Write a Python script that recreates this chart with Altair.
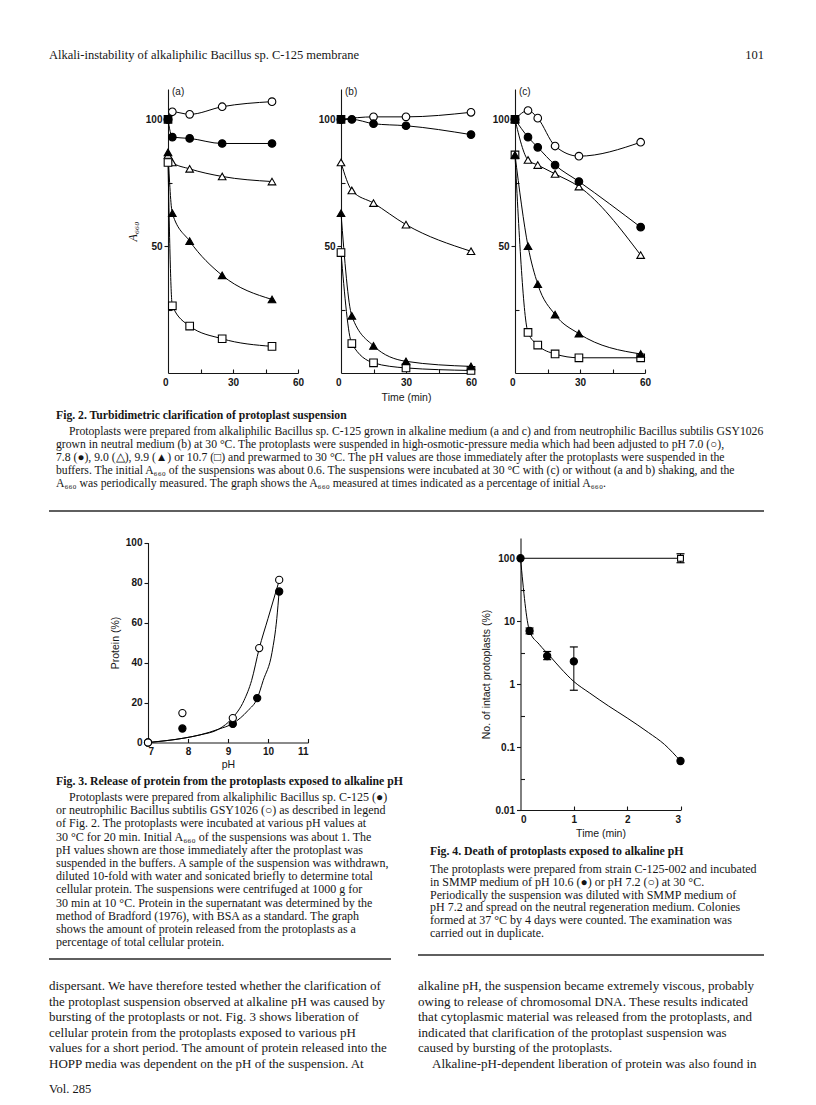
import altair as alt
import pandas as pd

# ---------------- page geometry (page pixels; chart origin is at the 8px body margin) -------------
OX, OY = 8, 8
W, H = 800, 1088


def X(p):
    return p - OX


def Y(p):
    return p - OY


SERIF = "Liberation Serif"
SANS = "Liberation Sans"
INK = "#161616"

# ---------------- Fig. 2 data ----------------
a_time = [0, 2, 10, 25, 48]
a_open_circle = [100, 103, 102, 105, 107]
a_filled_circle = [100, 93, 92.5, 90.5, 90.5]
a_open_triangle = [86, 83, 80.5, 77.5, 75.5]
a_filled_triangle = [87, 63, 52, 38.5, 29]
a_open_square = [83, 26.5, 18.5, 13.5, 10.5]

b_time = [0, 5, 15, 30, 60]
b_open_circle = [100, None, 101, 101, 102.8]
b_filled_circle = [100, 100, 98.3, 97.5, 94]
b_open_triangle = [83, 72, 67, 58.5, 48]
b_filled_triangle = [63, 22.5, 10.7, 4.6, 2.6]
b_open_square = [47.5, 11.6, 4, 2, 1]

c_time = [0, 6, 10.5, 18.5, 29.5, 58]
c_open_circle = [100, 103.5, 100.5, 89.5, 85.5, 91]
c_filled_circle = [100, 93, 89, 82, 75.5, 57.5]
c_open_triangle = [100, 84, 82, 78.5, 73.5, 46.5]
c_filled_triangle = [86, 50, 35, 23, 15.5, 7.5]
c_open_square = [86, 16, 11, 7.5, 6, 6]

start_marker = [100]  # filled square drawn at t = 0 in every panel

# ---------------- Fig. 3 data ----------------
ph_alkaliphile = [7.0, 7.86, 9.12, 9.73, 10.28]
protein_alkaliphile = [0, 7, 9.3, 22.2, 75.5]
ph_subtilis = [7.0, 7.86, 9.12, 9.78, 10.28]
protein_subtilis = [0, 14.7, 12.2, 47.2, 81.3]
curve_subtilis_ph = [7.0, 7.9, 8.3, 8.77, 9.1, 9.4, 9.59, 9.78, 10.0, 10.28]
curve_subtilis_p = [0, 2.2, 3.8, 6.7, 12, 21, 31, 47, 62, 81]
curve_alk_ph = [7.0, 7.9, 8.3, 8.77, 9.12, 9.5, 9.73, 9.88, 10.1, 10.22, 10.28]
curve_alk_p = [0, 2.2, 3.8, 6.7, 9.5, 16, 22, 31, 45, 62, 76]

# ---------------- Fig. 4 data ----------------
f4_time_ph106 = [0, 0.17, 0.5, 1.0, 3.0]
f4_intact_ph106 = [100, 7.0, 2.8, 2.3, 0.06]
f4_time_ph72 = [3.0]
f4_intact_ph72 = [100]
f4_line_ph72_t = [0, 3]
f4_line_ph72_v = [100, 100]
f4_curve_t = [0, 0.17, 0.35, 0.55, 0.75, 1.0, 1.3, 1.65, 2.0, 2.4, 2.7, 3.0]
f4_curve_v = [100, 7.0, 4.3, 2.8, 1.8, 1.1, 0.72, 0.45, 0.29, 0.17, 0.11, 0.06]
f4_err_t = [0.17, 0.5, 1.0, 3.0]
f4_err_lo = [6.3, 2.45, 0.8, 85]
f4_err_hi = [7.8, 3.3, 3.9, 118]

# ---------------- text ----------------
header_left = ["Alkali-instability of alkaliphilic Bacillus sp. C-125 membrane"]
header_right = ["101"]
fig2_title = ["Fig. 2. Turbidimetric clarification of protoplast suspension"]
fig2_caption = [
    "Protoplasts were prepared from alkaliphilic Bacillus sp. C-125 grown in alkaline medium (a and c) and from neutrophilic Bacillus subtilis GSY1026",
    "grown in neutral medium (b) at 30 °C. The protoplasts were suspended in high-osmotic-pressure media which had been adjusted to pH 7.0 (○),",
    "7.8 (●), 9.0 (△), 9.9 (▲) or 10.7 (□) and prewarmed to 30 °C. The pH values are those immediately after the protoplasts were suspended in the",
    "buffers. The initial A₆₆₀ of the suspensions was about 0.6. The suspensions were incubated at 30 °C with (c) or without (a and b) shaking, and the",
    "A₆₆₀ was periodically measured. The graph shows the A₆₆₀ measured at times indicated as a percentage of initial A₆₆₀.",
]
fig3_title = ["Fig. 3. Release of protein from the protoplasts exposed to alkaline pH"]
fig3_caption = [
    "Protoplasts were prepared from alkaliphilic Bacillus sp. C-125 (●)",
    "or neutrophilic Bacillus subtilis GSY1026 (○) as described in legend",
    "of Fig. 2. The protoplasts were incubated at various pH values at",
    "30 °C for 20 min. Initial A₆₆₀ of the suspensions was about 1. The",
    "pH values shown are those immediately after the protoplast was",
    "suspended in the buffers. A sample of the suspension was withdrawn,",
    "diluted 10-fold with water and sonicated briefly to determine total",
    "cellular protein. The suspensions were centrifuged at 1000 g for",
    "30 min at 10 °C. Protein in the supernatant was determined by the",
    "method of Bradford (1976), with BSA as a standard. The graph",
    "shows the amount of protein released from the protoplasts as a",
    "percentage of total cellular protein.",
]
fig4_title = ["Fig. 4. Death of protoplasts exposed to alkaline pH"]
fig4_caption = [
    "The protoplasts were prepared from strain C-125-002 and incubated",
    "in SMMP medium of pH 10.6 (●) or pH 7.2 (○) at 30 °C.",
    "Periodically the suspension was diluted with SMMP medium of",
    "pH 7.2 and spread on the neutral regeneration medium. Colonies",
    "formed at 37 °C by 4 days were counted. The examination was",
    "carried out in duplicate.",
]
body_left = [
    "dispersant. We have therefore tested whether the clarification of",
    "the protoplast suspension observed at alkaline pH was caused by",
    "bursting of the protoplasts or not. Fig. 3 shows liberation of",
    "cellular protein from the protoplasts exposed to various pH",
    "values for a short period. The amount of protein released into the",
    "HOPP media was dependent on the pH of the suspension. At",
]
body_right = [
    "alkaline pH, the suspension became extremely viscous, probably",
    "owing to release of chromosomal DNA. These results indicated",
    "that cytoplasmic material was released from the protoplasts, and",
    "indicated that clarification of the protoplast suspension was",
    "caused by bursting of the protoplasts.",
]
body_right_last = ["Alkaline-pH-dependent liberation of protein was also found in"]
footer = ["Vol. 285"]

# ---------------- helpers ----------------
SER = ["oc", "fc", "ot", "ft", "os", "fs"]
SHAPES = ["circle", "circle", "triangle-up", "triangle-up", "square", "square"]
FILLS = ["white", "black", "white", "black", "white", "black"]
DRAW = {"oc": 0, "ot": 1, "os": 2, "fc": 3, "ft": 4, "fs": 5}

AX = dict(labelFont=SANS, labelFontSize=10, labelFontWeight="bold", labelColor=INK,
          titleFont=SANS, titleFontSize=10.5, titleFontWeight="normal", titleColor=INK,
          domainColor=INK, tickColor=INK, domainWidth=1.1, tickWidth=1.1, tickSize=4,
          grid=False, labelPadding=2)
ZERO_RIGHT = {"condition": {"test": "datum.value === 0", "value": "right"}, "value": "center"}


def text_block(lines, x0, y0, lead, size, weight="normal", align="left", font=SERIF, style="normal"):
    n = len(lines)
    df = pd.DataFrame({"line": lines, "i": list(range(n))})
    span = max(n - 1, 1)
    return alt.Chart(df).mark_text(
        align=align, baseline="middle", font=font, fontSize=size,
        fontWeight=weight, fontStyle=style, color=INK,
    ).encode(
        x=alt.value(X(x0)),
        y=alt.Y("i:Q", scale=alt.Scale(domain=[0, span], range=[Y(y0), Y(y0 + span * lead)], nice=False), axis=None),
        text="line:N",
    )


def hrule(x1, x2, y, w=1.6):
    return alt.Chart(pd.DataFrame({"k": [0]})).mark_rule(color="#2a2a2a", strokeWidth=w).encode(
        x=alt.value(X(x1)), x2=alt.value(X(x2)), y=alt.value(Y(y))
    )


def inward_ticks(xs, ys, xdom, ydom, xvals, yvals, x_axis_page_y, y_axis_page_x):
    """Invisible layer whose top/right axes sit on the real axes, giving inward-pointing ticks."""
    d = pd.DataFrame({"tx": [xdom], "ty": [ydom]})
    tx_axis = alt.Axis(orient="top", offset=-Y(x_axis_page_y), values=xvals, labels=False, domain=False,
                       title="", ticks=True, tickSize=4, tickColor=INK, tickWidth=1.1, grid=False)
    ty_axis = alt.Axis(orient="right", offset=X(y_axis_page_x) - W, values=yvals, labels=False, domain=False,
                       title="", ticks=True, tickSize=4, tickColor=INK, tickWidth=1.1, grid=False)
    return alt.Chart(d).mark_point(opacity=0, size=1).encode(
        x=alt.X("tx:Q", scale=xs, axis=tx_axis), y=alt.Y("ty:Q", scale=ys, axis=ty_axis)
    )


def rows(panel, times, key, vals):
    return [dict(panel=panel, series=key, t=t, v=v, o=DRAW[key])
            for t, v in zip(times, vals) if v is not None]


recs = []
for p, tt, oc, fc, ot, ft, os_ in [
    ("a", a_time, a_open_circle, a_filled_circle, a_open_triangle, a_filled_triangle, a_open_square),
    ("b", b_time, b_open_circle, b_filled_circle, b_open_triangle, b_filled_triangle, b_open_square),
    ("c", c_time, c_open_circle, c_filled_circle, c_open_triangle, c_filled_triangle, c_open_square),
]:
    recs += rows(p, tt, "oc", oc) + rows(p, tt, "fc", fc) + rows(p, tt, "ot", ot)
    recs += rows(p, tt, "ft", ft) + rows(p, tt, "os", os_) + rows(p, [0], "fs", start_marker)
fig2 = pd.DataFrame(recs).sort_values(["o", "t"]).reset_index(drop=True)

# Fig. 2 geometry
F2_Y0 = 373          # page y of value 0
F2_K = 2.536         # px per unit
F2_W = 130           # px for 60 min


def fig2_panel(key, x0, tag, ytitle, xtitle):
    d = fig2[fig2.panel == key]
    xs = alt.Scale(domain=[0, 60], range=[X(x0), X(x0 + F2_W)], nice=False)
    ys = alt.Scale(domain=[0, 112], range=[Y(F2_Y0), Y(F2_Y0 - 112 * F2_K)], nice=False)
    xax = alt.Axis(orient="bottom", offset=Y(F2_Y0) - H, values=[0, 30, 60], ticks=False,
                   labelAlign=ZERO_RIGHT, title=xtitle, titlePadding=5,
                   **{**AX, "labelPadding": 4})
    yax = alt.Axis(orient="left", offset=-X(x0), values=[50, 100], title=ytitle,
                   titleFontStyle="italic", titlePadding=6,
                   **{**AX, "titleFontSize": 12, "titleFont": SERIF})
    base = alt.Chart(d)
    lines = base.transform_filter(alt.datum.series != "fs").mark_line(
        color="black", strokeWidth=1, interpolate="monotone"
    ).encode(
        x=alt.X("t:Q", scale=xs, axis=xax),
        y=alt.Y("v:Q", scale=ys, axis=yax),
        detail="series:N",
        order="t:Q",
    )
    pts = base.mark_point(strokeWidth=1.1, opacity=1, fillOpacity=1, size=58).encode(
        x=alt.X("t:Q", scale=xs, axis=xax),
        y=alt.Y("v:Q", scale=ys, axis=yax),
        shape=alt.Shape("series:N", scale=alt.Scale(domain=SER, range=SHAPES), legend=None),
        fill=alt.Fill("series:N", scale=alt.Scale(domain=SER, range=FILLS), legend=None),
        stroke=alt.value("black"),
        order="o:Q",
    )
    ticks = inward_ticks(xs, ys, 0, 0, [15, 30, 45, 60], [25, 75], F2_Y0, x0)
    lab = text_block([tag], x0 + 4, 92, 10, 10, font=SANS)
    return alt.layer(lines, pts), ticks, lab


pa, ta, la = fig2_panel("a", 168, "(a)", "A₆₆₀", "")
pb, tb, lb = fig2_panel("b", 341, "(b)", "", "Time (min)")
pc, tc, lc = fig2_panel("c", 515, "(c)", "", "")

# ---------------- Fig. 3 ----------------
f3_pts = pd.DataFrame(
    [dict(ph=a, p=b, s="fc") for a, b in zip(ph_alkaliphile, protein_alkaliphile)]
    + [dict(ph=a, p=b, s="oc") for a, b in zip(ph_subtilis, protein_subtilis)]
)
f3_curves = pd.DataFrame(
    [dict(ph=a, p=b, s="sub") for a, b in zip(curve_subtilis_ph, curve_subtilis_p)]
    + [dict(ph=a, p=b, s="alk") for a, b in zip(curve_alk_ph, curve_alk_p)]
)
F3_X0, F3_Y0 = 148, 742.5
f3x = alt.Scale(domain=[7, 11], range=[X(F3_X0), X(308)], nice=False, zero=False)
f3y = alt.Scale(domain=[0, 100], range=[Y(F3_Y0), Y(542.5)], nice=False)
f3xax = alt.Axis(orient="bottom", offset=Y(F3_Y0) - H, values=[7, 8, 9, 10, 11], title="pH", ticks=False,
                 titlePadding=3, **{**AX, "labelPadding": 4})
f3yax = alt.Axis(orient="left", offset=-X(F3_X0), values=[0, 20, 40, 60, 80, 100], title="Protein (%)",
                 titlePadding=5, **AX)
f3_line = alt.Chart(f3_curves).mark_line(color="black", strokeWidth=1, interpolate="monotone").encode(
    x=alt.X("ph:Q", scale=f3x, axis=f3xax), y=alt.Y("p:Q", scale=f3y, axis=f3yax), detail="s:N", order="ph:Q"
)
f3_point = alt.Chart(f3_pts).mark_point(shape="circle", size=52, strokeWidth=1.1, opacity=1, fillOpacity=1).encode(
    x=alt.X("ph:Q", scale=f3x, axis=f3xax), y=alt.Y("p:Q", scale=f3y, axis=f3yax),
    fill=alt.Fill("s:N", scale=alt.Scale(domain=["oc", "fc"], range=["white", "black"]), legend=None),
    stroke=alt.value("black"),
)
fig3 = alt.layer(f3_line, f3_point)
fig3_ticks = inward_ticks(f3x, f3y, 7, 0, [8, 9, 10, 11], [], F3_Y0, F3_X0)

# ---------------- Fig. 4 ----------------
F4_X0, F4_Y0 = 520.5, 810
f4x = alt.Scale(domain=[0, 3], range=[X(F4_X0), X(680.5)], nice=False)
f4y = alt.Scale(type="log", domain=[0.01, 210], range=[Y(F4_Y0), Y(538)], nice=False)
f4xax = alt.Axis(orient="bottom", offset=Y(F4_Y0) - H, values=[0, 1, 2, 3], title="Time (min)", ticks=False,
                 titlePadding=4, **{**AX, "labelPadding": 4})
f4yax = alt.Axis(orient="left", offset=-X(F4_X0), values=[0.01, 0.1, 1, 10, 100],
                 labelExpr="format(datum.value, '~g')",
                 title="No. of intact protoplasts (%)", titlePadding=4, **AX)
f4_pts = pd.DataFrame(
    [dict(t=a, v=b, s="fc") for a, b in zip(f4_time_ph106, f4_intact_ph106)]
    + [dict(t=a, v=b, s="os") for a, b in zip(f4_time_ph72, f4_intact_ph72)]
)
f4_lines = pd.DataFrame(
    [dict(t=a, v=b, s="open") for a, b in zip(f4_line_ph72_t, f4_line_ph72_v)]
    + [dict(t=a, v=b, s="fill") for a, b in zip(f4_curve_t, f4_curve_v)]
)
f4_err = pd.DataFrame({"t": f4_err_t, "lo": f4_err_lo, "hi": f4_err_hi})

f4_line = alt.Chart(f4_lines).mark_line(color="black", strokeWidth=1, interpolate="monotone").encode(
    x=alt.X("t:Q", scale=f4x, axis=f4xax), y=alt.Y("v:Q", scale=f4y, axis=f4yax), detail="s:N", order="t:Q"
)
f4_bar = alt.Chart(f4_err).mark_rule(color="black", strokeWidth=1).encode(
    x=alt.X("t:Q", scale=f4x, axis=f4xax), y=alt.Y("lo:Q", scale=f4y, axis=f4yax), y2="hi:Q"
)
f4_cap = alt.Chart(f4_err).transform_fold(["lo", "hi"], as_=["end", "val"]).mark_point(
    shape="stroke", size=64, strokeWidth=1.2, color="black", opacity=1
).encode(
    x=alt.X("t:Q", scale=f4x, axis=f4xax), y=alt.Y("val:Q", scale=f4y, axis=f4yax)
)
f4_point = alt.Chart(f4_pts).mark_point(strokeWidth=1.1, opacity=1, fillOpacity=1).encode(
    x=alt.X("t:Q", scale=f4x, axis=f4xax), y=alt.Y("v:Q", scale=f4y, axis=f4yax),
    shape=alt.Shape("s:N", scale=alt.Scale(domain=["fc", "os"], range=["circle", "square"]), legend=None),
    fill=alt.Fill("s:N", scale=alt.Scale(domain=["fc", "os"], range=["black", "white"]), legend=None),
    size=alt.Size("s:N", scale=alt.Scale(domain=["fc", "os"], range=[52, 34]), legend=None),
    stroke=alt.value("black"),
)
fig4 = alt.layer(f4_line, f4_bar, f4_cap, f4_point)
fig4_ticks = inward_ticks(f4x, f4y, 0, 0.01, [1, 2, 3], [0.0316, 0.316, 3.16, 31.6], F4_Y0, F4_X0)

# ---------------- text & rules ----------------
LEAD = 13
texts = [
    text_block(header_left, 49, 55, 14, 12.5),
    text_block(header_right, 764, 55, 14, 12.5, align="right"),
    text_block(fig2_title, 56, 415, LEAD, 11.7, weight="bold"),
    text_block(fig2_caption[:1], 69, 431, LEAD, 11.7),
    text_block(fig2_caption[1:], 56, 431 + LEAD, LEAD, 11.7),
    hrule(49, 764, 511),
    text_block(fig3_title, 56, 781, LEAD, 11.8, weight="bold"),
    text_block(fig3_caption[:1], 69, 797, 13.2, 12),
    text_block(fig3_caption[1:], 56, 797 + 13.2, 13.2, 12),
    text_block(fig4_title, 430, 851, LEAD, 11.8, weight="bold"),
    text_block(fig4_caption, 430, 869, 12.8, 12),
    hrule(49, 391, 959),
    hrule(418, 764, 955),
    text_block(body_left, 49, 986, 15.5, 13),
    text_block(body_right, 418, 986, 15.5, 13),
    text_block(body_right_last, 432, 986 + 5 * 15.5, 15.5, 13),
    text_block(footer, 49, 1089, 14, 12.5),
]

layers = [pa, pb, pc, ta, tb, tc, la, lb, lc, fig3, fig3_ticks, fig4, fig4_ticks] + texts

chart = alt.layer(*layers).resolve_scale(
    x="independent", y="independent", shape="independent", fill="independent", size="independent"
).properties(
    width=W, height=H, padding=0, autosize=alt.AutoSizeParams(type="none"),
    background="white",
).configure_view(strokeWidth=0)

chart.save("out.html", embed_options={"renderer": "svg", "actions": False})
